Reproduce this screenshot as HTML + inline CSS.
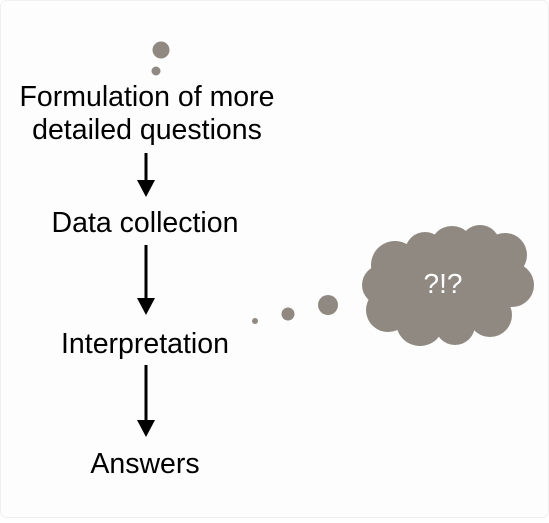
<!DOCTYPE html>
<html><head><style>
body{margin:0;background:#fff}
</style></head><body>
<svg width="549" height="518" viewBox="0 0 549 518" xmlns="http://www.w3.org/2000/svg">
<rect x="0.5" y="0.5" width="548" height="517" rx="6" fill="#fdfdfd" stroke="#f0f0f0"/>
<g fill="#8f8981">
<circle cx="161" cy="50" r="8.5"/>
<circle cx="156" cy="71" r="4.5"/>
<circle cx="255" cy="321" r="3"/>
<circle cx="288" cy="314" r="6.5"/>
<circle cx="328" cy="305" r="10"/>
<circle cx="395" cy="265" r="24"/>
<circle cx="382" cy="285" r="20"/>
<circle cx="388" cy="310" r="22"/>
<circle cx="420" cy="322" r="24"/>
<circle cx="455" cy="325" r="20"/>
<circle cx="490" cy="315" r="22"/>
<circle cx="512" cy="285" r="22"/>
<circle cx="505" cy="255" r="22"/>
<circle cx="480" cy="245" r="20"/>
<circle cx="452" cy="248" r="22"/>
<circle cx="425" cy="252" r="20"/>
<ellipse cx="447" cy="285" rx="70" ry="45"/>
</g>
<text x="443" y="293" font-family="Liberation Sans, sans-serif" font-size="28" fill="#fff" text-anchor="middle">?!?</text>
<g font-family="Liberation Sans, sans-serif" font-size="28.5" fill="#000" text-anchor="middle">
<text x="147" y="106">Formulation of more</text>
<text x="147" y="139">detailed questions</text>
<text x="145" y="232">Data collection</text>
<text x="145" y="353">Interpretation</text>
<text x="145" y="473">Answers</text>
</g>
<g stroke="#000" stroke-width="3">
<line x1="146" y1="153" x2="146" y2="182"/>
<line x1="146" y1="245" x2="146" y2="300"/>
<line x1="146" y1="365" x2="146" y2="422"/>
</g>
<g fill="#000">
<polygon points="137,180 155,180 146,197"/>
<polygon points="137,298 155,298 146,315"/>
<polygon points="137,420 155,420 146,437"/>
</g>
</svg>
</body></html>
